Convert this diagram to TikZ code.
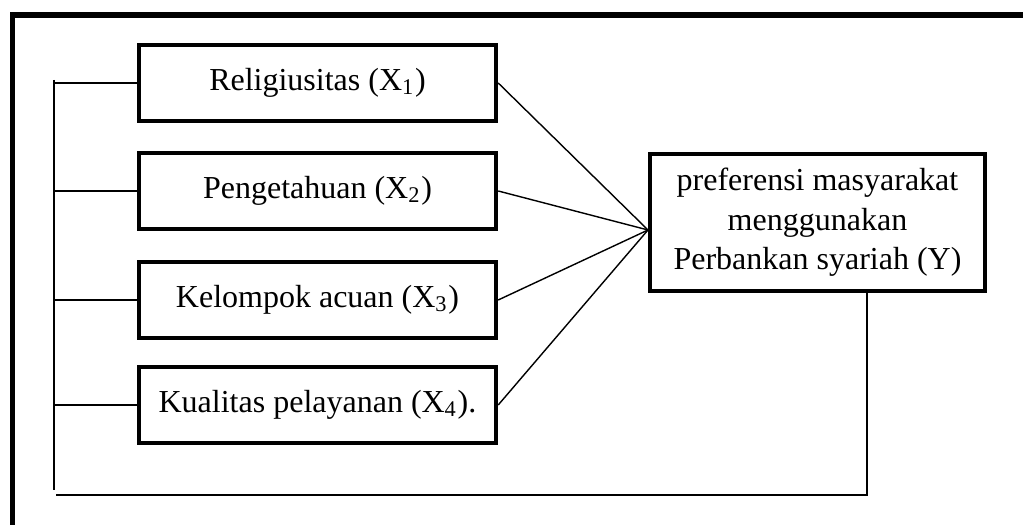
\documentclass[tikz,border=0pt]{standalone}
\usepackage{fontspec}
\setmainfont{Liberation Serif}
\usetikzlibrary{positioning}

\tikzset{
  varbox/.style={draw, line width=1.2pt, minimum width=3.57cm, minimum height=0.76cm, inner sep=0pt, font=\fontsize{9.1}{11.2}\selectfont},
  ybox/.style={draw, line width=1.2pt, minimum width=3.35cm, minimum height=1.37cm, inner sep=0pt, align=center, font=\fontsize{9.1}{11.2}\selectfont},
  link/.style={line width=0.4pt}
}

\begin{document}
\begin{tikzpicture}[x=0.01cm, y=-0.01cm]
\useasboundingbox (0,0) rectangle (1023,525);
\clip (0,0) rectangle (1023,525);
\draw[line width=1.6pt] (12.5,15) rectangle (1060,560);
\node[varbox] (x1) at (317.5,83) {Religiusitas (X\textsubscript{1})};
\node[varbox] (x2) at (317.5,191) {Pengetahuan (X\textsubscript{2})};
\node[varbox] (x3) at (317.5,300) {Kelompok acuan (X\textsubscript{3})};
\node[varbox] (x4) at (317.5,405) {Kualitas pelayanan (X\textsubscript{4}).};
\node[ybox] (y) at (817.5,222.5) {preferensi masyarakat\\menggunakan\\Perbankan syariah (Y)};
\coordinate (c) at (648,230);
\coordinate (t) at (54,80);
\coordinate (b) at (54,490);
\coordinate (l) at (56,495);
\coordinate (r) at (867,495);
\draw[link] (x1.east)--(c);
\draw[link] (x2.east)--(c);
\draw[link] (x3.east)--(c);
\draw[link] (x4.east)--(c);
\draw[link] (t)--(b);
\draw[link] (x1.west -| t)--(x1.west);
\draw[link] (x2.west -| t)--(x2.west);
\draw[link] (x3.west -| t)--(x3.west);
\draw[link] (x4.west -| t)--(x4.west);
\draw[link] (r |- y.south)--(r)--(l);
\end{tikzpicture}
\end{document}
